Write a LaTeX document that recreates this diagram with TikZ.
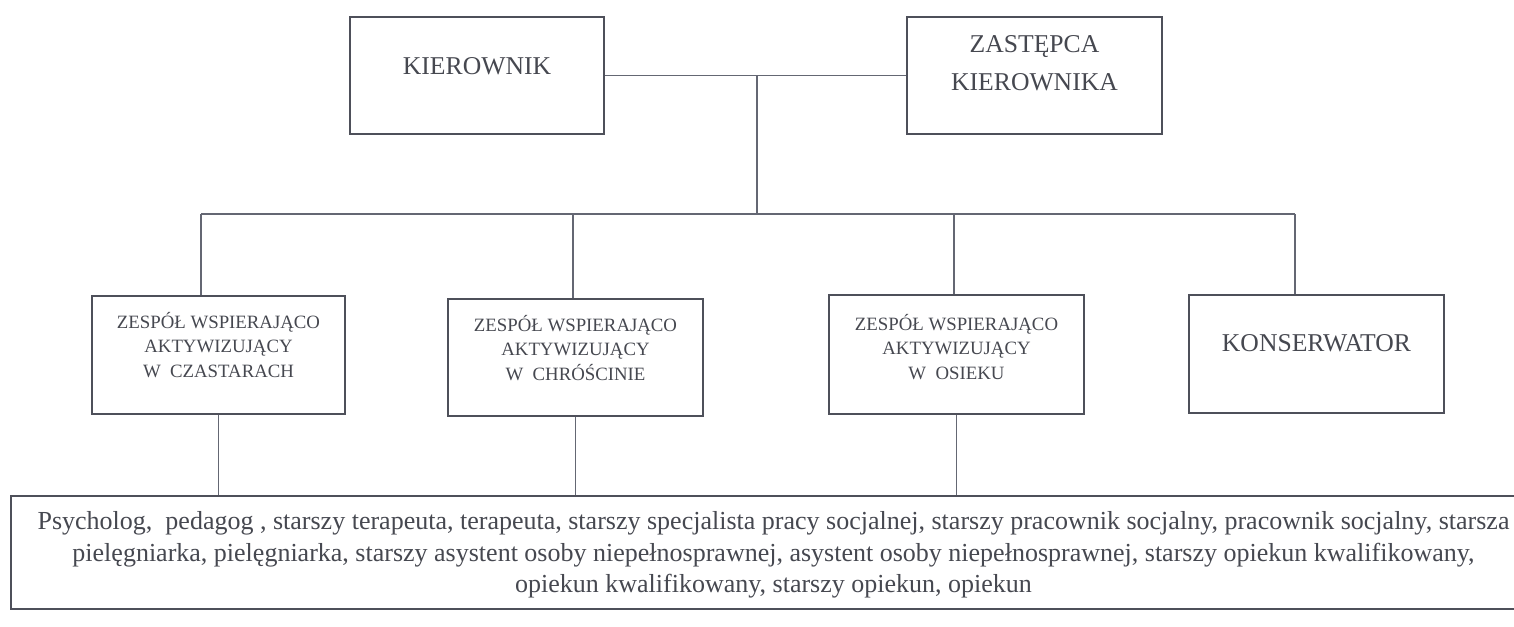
\documentclass[tikz,border=0pt]{standalone}
\usepackage{fontspec}
\setmainfont{Liberation Serif}
\usetikzlibrary{fit}
\definecolor{linec}{RGB}{100,103,115}
\definecolor{boxc}{RGB}{78,80,90}
\definecolor{textc}{RGB}{70,72,80}
\begin{document}
\begin{tikzpicture}[x=0.02cm,y=-0.02cm,
  box/.style={draw=boxc, line width=1.2pt, inner sep=0pt},
  conn/.style={draw=linec, line width=0.6pt},
  bigtxt/.style={text=textc, font=\fontsize{14.6}{17.6}\selectfont, align=center, inner sep=0pt},
  teamtxt/.style={text=textc, font=\fontsize{10.7}{13.8}\selectfont, align=center, inner sep=0pt}]
\fill[white] (0,0) rectangle (1514,626);
\useasboundingbox (0,0) rectangle (1514,626);

% top row
\node[box, fit={(350,17)(604,134)}] (kier) {};
\node[bigtxt] (kiert) at (477,66) {KIEROWNIK};
\node[box, fit={(907,17)(1162,134)}] (zast) {};
\node[bigtxt, font=\fontsize{14.6}{21.5}\selectfont] (zastt) at (1034.5,63.5) {ZASTĘPCA\\KIEROWNIKA};

% second row
\node[box, fit={(92,296)(345,414)}] (z1) {};
\node[teamtxt] (z1t) at (218.5,345) {ZESPÓŁ WSPIERAJĄCO\\AKTYWIZUJĄCY\\W\enspace CZASTARACH};
\node[box, fit={(448,299)(703,416)}] (z2) {};
\node[teamtxt] (z2t) at (575.5,348) {ZESPÓŁ WSPIERAJĄCO\\AKTYWIZUJĄCY\\W\enspace CHRÓŚCINIE};
\node[box, fit={(829,295)(1084,414)}] (z3) {};
\node[teamtxt] (z3t) at (956.5,347) {ZESPÓŁ WSPIERAJĄCO\\AKTYWIZUJĄCY\\W\enspace OSIEKU};
\node[box, fit={(1189,295)(1444,413)}] (kons) {};
\node[bigtxt] (konst) at (1316.5,343) {KONSERWATOR};

% bottom box
\node[box, fit={(11,496)(1540,609)}] (staff) {};
\node[bigtxt, font=\fontsize{14.8}{18}\selectfont] (stafft) at (773.5,555) {Psycholog, \ pedagog , starszy terapeuta, terapeuta, starszy specjalista pracy socjalnej, starszy pracownik socjalny, pracownik socjalny, starsza\\
pielęgniarka, pielęgniarka, starszy asystent osoby niepełnosprawnej, asystent osoby niepełnosprawnej, starszy opiekun kwalifikowany,\\
opiekun kwalifikowany, starszy opiekun, opiekun};

% connectors
\draw[conn] (kier.east) -- (zast.west);
\coordinate (j) at (757,75.5);
\coordinate (bus) at (757,214);
\draw[conn] (j) -- (bus);
\coordinate (b1) at (201,214);
\coordinate (b2) at (573,214);
\coordinate (b3) at (954,214);
\coordinate (b4) at (1295,214);
\draw[conn] (b1) -- (b4);
\draw[conn] (b1) -- (b1 |- z1.north);
\draw[conn] (b2) -- (b2 |- z2.north);
\draw[conn] (b3) -- (b3 |- z3.north);
\draw[conn] (b4) -- (b4 |- kons.north);
\draw[conn] (z1.south) -- (z1.south |- staff.north);
\draw[conn] (z2.south) -- (z2.south |- staff.north);
\draw[conn] (z3.south) -- (z3.south |- staff.north);
\end{tikzpicture}
\end{document}
